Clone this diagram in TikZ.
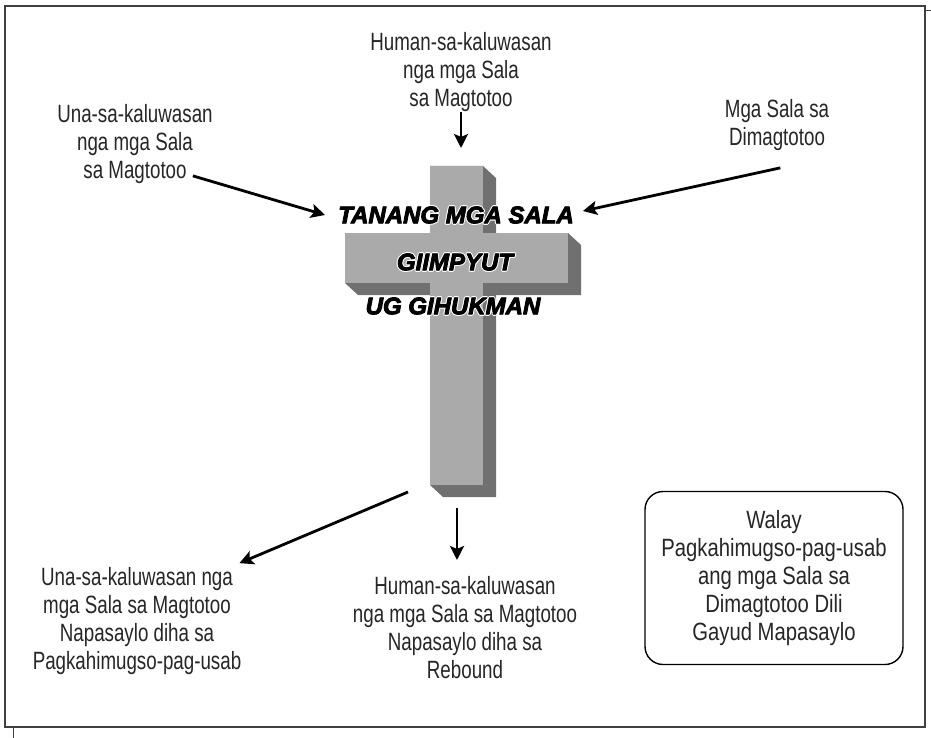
\documentclass[tikz,border=0pt]{standalone}
\usepackage{fontspec}
\setmainfont{Liberation Sans}[FakeStretch=0.75]
\newfontfamily\boxfont{Liberation Sans}[FakeStretch=0.81]
\newfontfamily\crossfont{Liberation Sans}
\usetikzlibrary{arrows.meta}
% white rim round the black words on the cross
\newcommand\halo[1]{\leavevmode
  \rlap{\special{pdf:literal direct 1 Tr 3 w 1 j 1 1 1 RG}#1\special{pdf:literal direct 0 Tr 0.3985 w 0 j 0 G}}%
  \special{pdf:literal direct 2 Tr 0.9 w 1 j 0 G}#1\special{pdf:literal direct 0 Tr 0.3985 w 0 j}}
\tikzset{
  x=1pt, y=-1pt, % work in pixels of the sketch, y going down
  >={Stealth[length=14pt, width=14pt, inset=3pt]}, % filled heads
  note/.style={align=center, inner sep=0pt, text=black!85,
    font=\fontsize{25}{28}\selectfont}, % the grey captions
  title/.style={inner sep=0pt, font=\crossfont\fontsize{24}{28}\selectfont\bfseries\itshape},
  arrow/.style={->, line width=2.8pt},
  face/.style={fill=gray!67}, % front of the cross
  side/.style={fill=black!56}, % depth of the cross
}

\begin{document}
\begin{tikzpicture}
  \useasboundingbox (0,0) rectangle (931,738);
  \draw[line width=1.5pt, black!75] (5,6) rectangle (925,727);
  \draw[black!75] (926,10) -- (931,10);
  \draw[black!75] (13,728) -- (13,738);

  % the cross
  \fill[side] (430,166) -- (483,166) -- (496,178) -- (496,497) -- (443,497) -- (430,485) -- cycle;
  \fill[side] (345,233) -- (568,233) -- (581,245) -- (581,295) -- (358,295) -- (345,283) -- cycle;
  \fill[face] (430,166) rectangle (483,485);
  \fill[face] (345,233) rectangle (568,283);

  \node[title] (sala) at (456,215) {\halo{TANANG MGA SALA}};
  \node[title] (impyut) at (455,262) {\halo{GIIMPYUT}};
  \node[title] (hukman) at (453,306) {\halo{UG GIHUKMAN}};

  % captions
  \node[note] (top) at (461,72) {Human-sa-kaluwasan\\nga mga Sala\\sa Magtotoo};
  \node[note] (ul) at (135,144) {Una-sa-kaluwasan\\nga mga Sala\\sa Magtotoo};
  \node[note] (ur) at (777,125) {Mga Sala sa\\Dimagtotoo};
  \node[note] (bl) at (137,621) {Una-sa-kaluwasan nga\\mga Sala sa Magtotoo\\Napasaylo diha sa\\Pagkahimugso-pag-usab};
  \node[note] (bm) at (465,628) {Human-sa-kaluwasan\\nga mga Sala sa Magtotoo\\Napasaylo diha sa\\Rebound};
  \node[note, font=\boxfont\fontsize{25}{28}\selectfont, draw=black, line width=1.4pt,
    rounded corners=18pt, minimum width=258pt, minimum height=173pt] (box) at (774,578)
    {Walay\\Pagkahimugso-pag-usab\\ang mga Sala sa\\Dimagtotoo Dili\\Gayud Mapasaylo};

  % free ends at the cross
  \coordinate (top-in) at (461,148);
  \coordinate (foot-l) at (408,492);
  \coordinate (foot) at (457,508);

  \draw[arrow] (top.south) -- (top-in);
  \draw[arrow] ([xshift=-20pt, yshift=8pt]ul.south east) -- ([xshift=-13pt]sala.west);
  \draw[arrow] ([xshift=-49pt, yshift=-17pt]ur.south east) -- ([xshift=9pt, yshift=4pt]sala.east);
  \draw[arrow] (foot-l) -- ([xshift=-2pt, yshift=4pt]bl.north east);
  \draw[arrow] (foot) -- (foot |- 0,560);
\end{tikzpicture}
\end{document}
